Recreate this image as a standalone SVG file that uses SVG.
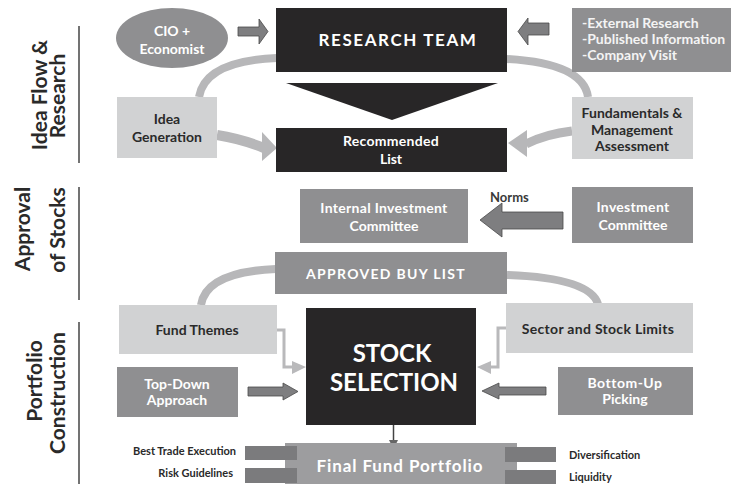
<svg xmlns="http://www.w3.org/2000/svg" width="731" height="484" viewBox="0 0 731 484">
<style>
text{font-family:Lato,"Liberation Sans",sans-serif;font-weight:bold}
.dark{fill:#282627}
.mid{fill:#8f8f91}
.light{fill:#d1d2d3}
.wt{fill:#ffffff;text-anchor:middle}
.dt{fill:#2a2a2a;text-anchor:middle}
.sec{fill:#2a2a2a;font-size:21px;text-anchor:middle}
.arc{fill:none;stroke:#b7b7b9;stroke-width:8}
.blk{fill:#7e7e80;stroke:#4a4a4a;stroke-width:0.8}
.thin{fill:none;stroke:#b9b9bb;stroke-width:3}
.bar{fill:#7b7b7d}
.div{stroke:#444;stroke-width:1.5}
</style>
<rect width="731" height="484" fill="#ffffff"/>

<g id="section-labels">
<line class="div" x1="79" y1="26" x2="79" y2="163"/>
<line class="div" x1="79" y1="187" x2="79" y2="300"/>
<line class="div" x1="79" y1="322" x2="79" y2="484"/>
<text class="sec" transform="translate(47,95) rotate(-90)">Idea Flow &amp;</text>
<text class="sec" transform="translate(65,96) rotate(-90)">Research</text>
<text class="sec" transform="translate(30,229) rotate(-90)">Approval</text>
<text class="sec" transform="translate(65,230) rotate(-90)">of Stocks</text>
<text class="sec" transform="translate(42,381) rotate(-90)">Portfolio</text>
<text class="sec" transform="translate(65,393) rotate(-90)">Construction</text>
</g>

<g id="connectors">
<path class="arc" d="M277,58 Q205,61 199,97"/>
<path class="arc" d="M506,59 Q583,63 588,97"/>
<path d="M217,135 Q242,139 264,148" fill="none" stroke="#b7b7b9" stroke-width="10"/>
<polygon points="262,132 277,148 262,161" fill="#b7b7b9"/>
<path d="M572,131 Q546,134 526,144" fill="none" stroke="#b7b7b9" stroke-width="9"/>
<polygon points="527,130 508,143 527,157" fill="#b7b7b9"/>
<path class="arc" d="M276,269 Q206,272 201,305" stroke-width="7"/>
<path class="arc" d="M507,275 Q590,278 598,304" stroke-width="7"/>
<polygon class="blk" points="238,27 259,27 259,19 268,31.5 259,44 259,36 238,36"/>
<polygon class="blk" points="549,23 528,23 528,18 518,31.5 528,45 528,35 549,35"/>
<polygon class="blk" points="563,212 502,212 502,203 480,220 502,237 502,229 563,229" stroke="#a9a9ab"/>
<polygon class="blk" points="248,387 283,387 283,383 298,391.5 283,400 283,396 248,396"/>
<polygon class="blk" points="546,387 499,387 499,383 482,391 499,399 499,395 546,395"/>
<polyline class="thin" points="277,330 284,330 284,367 293,367"/>
<polygon points="292,361 306,367 292,374" fill="#b9b9bb"/>
<polyline class="thin" points="506,328 498,328 498,367 490,367"/>
<polygon points="491,361 477,367 491,374" fill="#b9b9bb"/>
<line x1="393.5" y1="425" x2="393.5" y2="441" stroke="#444" stroke-width="1.5"/>
<polygon points="389,440 398,440 393.5,449" fill="#666"/>
</g>

<g id="research-team">
<rect class="dark" x="276" y="8" width="231" height="64"/>
<text class="wt" x="398" y="46" font-size="17" letter-spacing="1.6">RESEARCH TEAM</text>
</g>
<g id="funnel">
<polygon class="dark" points="286,83 498,83 392,120"/>
</g>
<g id="recommended-list">
<rect class="dark" x="276" y="128" width="231" height="44"/>
<text class="wt" x="391" y="146" font-size="14" letter-spacing="0.3">Recommended</text>
<text class="wt" x="391" y="164" font-size="14">List</text>
</g>
<g id="cio-economist">
<ellipse class="mid" cx="172" cy="38" rx="56" ry="30"/>
<text class="wt" x="172" y="36" font-size="14">CIO +</text>
<text class="wt" x="172" y="54" font-size="14">Economist</text>
</g>
<g id="external-research">
<rect class="mid" x="572" y="8" width="159" height="64"/>
<text x="582" y="28" font-size="14" fill="#f4f4f4">-External Research</text>
<text x="582" y="44" font-size="14" fill="#f4f4f4">-Published Information</text>
<text x="582" y="60" font-size="14" fill="#f4f4f4">-Company Visit</text>
</g>
<g id="idea-generation">
<rect class="light" x="117" y="97" width="100" height="61"/>
<text class="dt" x="167" y="124" font-size="14">Idea</text>
<text class="dt" x="167" y="142" font-size="14">Generation</text>
</g>
<g id="fundamentals">
<rect class="light" x="572" y="97" width="121" height="62"/>
<text class="dt" x="632" y="118" font-size="14">Fundamentals &amp;</text>
<text class="dt" x="632" y="135" font-size="14">Management</text>
<text class="dt" x="632" y="151" font-size="14">Assessment</text>
</g>
<g id="internal-committee">
<rect class="mid" x="300" y="189" width="168" height="54"/>
<text class="wt" x="384" y="213" font-size="14" letter-spacing="0.3">Internal Investment</text>
<text class="wt" x="384" y="231" font-size="14">Committee</text>
</g>
<g id="norms-label">
<text x="490" y="202" font-size="13" fill="#3a3a3a">Norms</text>
</g>
<g id="investment-committee">
<rect class="mid" x="572" y="187" width="121" height="56"/>
<text class="wt" x="633" y="212" font-size="14" letter-spacing="0.3">Investment</text>
<text class="wt" x="633" y="230" font-size="14">Committee</text>
</g>
<g id="approved-buy-list">
<rect class="mid" x="275" y="252" width="232" height="42"/>
<text class="wt" x="386" y="279" font-size="14" letter-spacing="1.3">APPROVED BUY LIST</text>
</g>
<g id="fund-themes">
<rect class="light" x="119" y="305" width="158" height="49"/>
<text class="dt" x="197" y="335" font-size="14">Fund Themes</text>
</g>
<g id="sector-limits">
<rect class="light" x="506" y="303" width="187" height="50"/>
<text class="dt" x="598" y="334" font-size="14" letter-spacing="0.3">Sector and Stock Limits</text>
</g>
<g id="stock-selection">
<rect class="dark" x="306" y="308" width="170" height="117"/>
<text class="wt" x="392" y="362" font-size="24">STOCK</text>
<text class="wt" x="394" y="391" font-size="24">SELECTION</text>
</g>
<g id="top-down">
<rect class="mid" x="117" y="367" width="121" height="50"/>
<text class="wt" x="177" y="389" font-size="14">Top-Down</text>
<text class="wt" x="177" y="405" font-size="14">Approach</text>
</g>
<g id="bottom-up">
<rect class="mid" x="558" y="367" width="135" height="48"/>
<text class="wt" x="625" y="388" font-size="14" letter-spacing="0.5">Bottom-Up</text>
<text class="wt" x="625" y="404" font-size="14">Picking</text>
</g>
<g id="final-portfolio">
<rect x="285" y="443" width="232" height="41" fill="#9d9d9f"/>
<rect class="bar" x="245" y="446" width="52" height="14"/>
<rect class="bar" x="245" y="468" width="52" height="15"/>
<rect class="bar" x="505" y="447" width="51" height="15"/>
<rect class="bar" x="505" y="470" width="51" height="14"/>
<text class="wt" x="400" y="472" font-size="17" letter-spacing="0.9">Final Fund Portfolio</text>
</g>
<g id="side-labels">
<text x="236" y="455" font-size="11" fill="#2a2a2a" text-anchor="end">Best Trade Execution</text>
<text x="233" y="477" font-size="11" fill="#2a2a2a" text-anchor="end">Risk Guidelines</text>
<text x="569" y="459" font-size="11" fill="#2a2a2a">Diversification</text>
<text x="569" y="481" font-size="11" fill="#2a2a2a">Liquidity</text>
</g>
</svg>
